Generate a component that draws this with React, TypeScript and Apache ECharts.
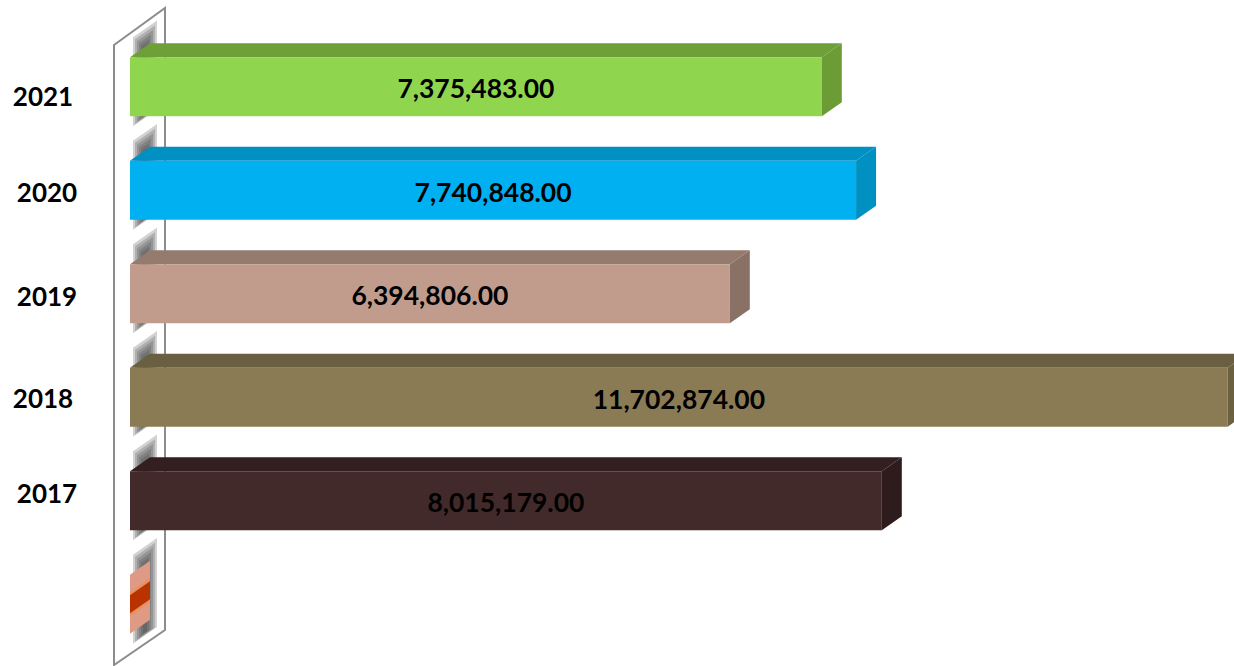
import React, { useEffect, useRef } from "react";
import * as echarts from "echarts";

const years = ["", "2017", "2018", "2019", "2020", "2021"];
const values = [0, 8015179, 11702874, 6394806, 7740848, 7375483];
const frontColors = ["#DE9A85", "#422A2A", "#8A7B55", "#C19C8D", "#00B0F0", "#8FD64E"];
const topColors = ["#DE9A85", "#331F20", "#6B5F42", "#957B6E", "#0090C2", "#6F9F38"];
const sideColors = ["#DE9A85", "#2E1C1D", "#6B6040", "#8A7166", "#0090C2", "#6C9C36"];
const stripeColor = "#B83300";
const stripeEdgeColor = "#E8905E";
const yearLabelShift = [[0, 0], [47, -7.5], [43, 1.5], [47, 2.5], [47, 2.5], [43, 9.5]];

const FONT = "Lato, 'Open Sans', sans-serif";
const DX = 20;
const DY = -14;
const BAR = 59;
const BLUR_STEPS = [0, 1, 2, 3, 4, 5];

const fmt = (v: number) =>
  v.toLocaleString("en-US", { minimumFractionDigits: 2, maximumFractionDigits: 2 });

export default function App() {
  const ref = useRef<HTMLDivElement>(null);
  useEffect(() => {
    const chart = echarts.init(ref.current!, undefined, { renderer: "svg" });
    const rows = values.map((v, i) => [v, i]);
    chart.setOption({
      animation: false,
      backgroundColor: "#ffffff",
      grid: { left: 130, right: 0, top: 35, bottom: 10 },
      xAxis: { type: "value", min: 0, max: 11770000, show: false },
      yAxis: { type: "category", data: years, show: false },
      graphic: [
        {
          type: "polygon",
          z: 0,
          shape: { points: [[114, 45], [165, 8], [165, 630], [114, 665]] },
          style: { fill: "#ffffff", stroke: "#8C8C8C", lineWidth: 2 },
        },
      ],
      series: [
        {
          type: "custom",
          z: 1,
          silent: true,
          clip: false,
          data: rows,
          encode: { x: 0, y: 1 },
          renderItem: (_p: any, api: any) => {
            const c = api.coord([0, api.value(1)]);
            const s = DY / DX;
            const y0 = c[1] - BAR / 2;
            const y1 = c[1] + BAR / 2;
            return {
              type: "group",
              children: BLUR_STEPS.map((k) => {
                const xa = c[0] + 3 + k * 2;
                const xb = c[0] + 27 - k * 2;
                const ta = y0 - 20 + k * 2;
                const ba = y1 + 10 - k * 2;
                const w = xb - xa;
                return {
                  type: "polygon",
                  shape: {
                    points: [
                      [xa, ta],
                      [xb, ta + w * s],
                      [xb, ba + w * s],
                      [xa, ba],
                    ],
                  },
                  style: { fill: "#444444", opacity: 0.24 },
                };
              }),
            };
          },
        },
        {
          type: "custom",
          z: 2,
          silent: true,
          clip: false,
          data: rows,
          encode: { x: 0, y: 1 },
          renderItem: (_p: any, api: any) => {
            const v = api.value(0);
            const i = api.value(1);
            const a = api.coord([0, i]);
            const b = api.coord([v, i]);
            const t = a[1] - BAR / 2;
            const u = a[1] + BAR / 2;
            const children: any[] = [];
            if (v > 0) {
              children.push({
                type: "polygon",
                shape: { points: [[a[0], t], [a[0] + DX, t + DY], [b[0] + DX, t + DY], [b[0], t]] },
                style: { fill: topColors[i] },
              });
              children.push({
                type: "rect",
                shape: { x: a[0], y: t, width: b[0] - a[0], height: BAR },
                style: { fill: frontColors[i] },
              });
            }
            children.push({
              type: "polygon",
              shape: { points: [[b[0], t], [b[0] + DX, t + DY], [b[0] + DX, u + DY], [b[0], u]] },
              style: { fill: sideColors[i] },
            });
            if (v === 0) {
              const band = (h: number, fill: string) => ({
                type: "polygon",
                shape: {
                  points: [
                    [b[0], a[1] - h],
                    [b[0] + DX, a[1] - h + DY],
                    [b[0] + DX, a[1] + h + DY],
                    [b[0], a[1] + h],
                  ],
                },
                style: { fill },
              });
              children.push(band(12, stripeEdgeColor));
              children.push(band(9, stripeColor));
            } else {
              children.push({
                type: "text",
                style: {
                  x: (a[0] + b[0]) / 2,
                  y: a[1] + 1.5,
                  text: fmt(v),
                  fill: "#000000",
                  font: `bold 26.5px ${FONT}`,
                  textAlign: "center",
                  textVerticalAlign: "middle",
                },
              });
              children.push({
                type: "text",
                style: {
                  x: yearLabelShift[i][0],
                  y: a[1] + yearLabelShift[i][1] - 0.5,
                  text: years[i],
                  fill: "#000000",
                  font: `bold 26px ${FONT}`,
                  textAlign: "center",
                  textVerticalAlign: "middle",
                },
              });
            }
            return { type: "group", children };
          },
        },
      ],
    });
    return () => chart.dispose();
  }, []);
  return (
    <div
      ref={ref}
      style={{ position: "absolute", left: 0, top: 0, width: 1234, height: 666 }}
    />
  );
}
